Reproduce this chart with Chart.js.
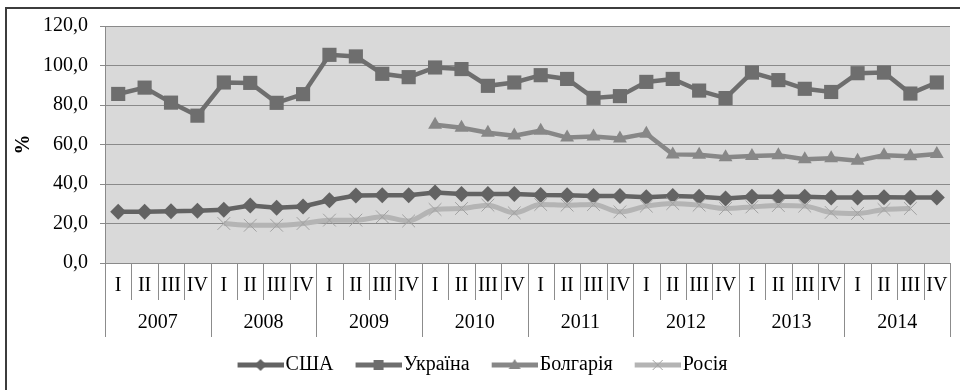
<!DOCTYPE html>
<html>
<head>
<meta charset="utf-8">
<script src="https://cdn.jsdelivr.net/npm/chart.js@4/dist/chart.umd.min.js"></script>
<style>
  html, body { margin: 0; padding: 0; background: #fff; }
  #wrap { position: relative; width: 960px; height: 390px; overflow: hidden; }
  #frame { position: absolute; left: 5px; top: 7px; width: 1000px; height: 500px;
           border-left: 2px solid #3c3c3c; border-top: 2px solid #3c3c3c; pointer-events: none; }
  canvas { position: absolute; left: 0; top: 0; }
  .pre { font-family: 'Liberation Serif'; position: absolute; left: -999px; top: -999px; }
</style>
</head>
<body>
<div id="wrap">
  <canvas id="c" width="960" height="390"></canvas>
  <div id="frame"></div>
</div>
<span class="pre">США Україна Болгарія Росія 120,0 <b>%</b></span>
<script>
// ---- data ----
const years = ['2007', '2008', '2009', '2010', '2011', '2012', '2013', '2014'];
const quarters = ['I', 'II', 'III', 'IV'];
const seriesNames = ['США', 'Україна', 'Болгарія', 'Росія'];
const yTicks = [0, 20, 40, 60, 80, 100, 120];

const usa = [25.9, 25.9, 26.2, 26.4, 27.0, 29.1, 28.0, 28.6,
             31.8, 34.2, 34.3, 34.3, 35.7, 35.0, 35.0, 34.9,
             34.4, 34.3, 33.9, 33.9, 33.3, 33.9, 33.6, 32.7,
             33.5, 33.5, 33.5, 33.2, 33.2, 33.3, 33.2, 33.2];
const ukraine = [85.6, 88.8, 81.2, 74.6, 91.4, 91.2, 81.1, 85.5,
                 105.4, 104.6, 95.8, 94.1, 99.0, 98.2, 89.7, 91.4,
                 95.1, 93.2, 83.6, 84.5, 91.7, 93.2, 87.3, 83.5,
                 96.4, 92.6, 88.2, 86.6, 96.1, 96.4, 85.8, 91.4];
const bulgaria = [null, null, null, null, null, null, null, null,
                  null, null, null, null, 70.0, 68.5, 66.0, 64.5,
                  67.0, 63.5, 64.0, 63.0, 65.5, 55.0, 54.8, 53.5,
                  54.2, 54.5, 52.5, 53.0, 51.8, 54.5, 54.0, 55.2];
const russia = [null, null, null, null, 20.0, 19.1, 19.1, 20.0,
                21.7, 21.7, 23.4, 21.3, 27.1, 27.6, 29.3, 25.4,
                29.6, 29.3, 29.6, 25.9, 28.8, 30.1, 29.3, 27.6,
                28.4, 29.1, 28.8, 25.6, 25.1, 27.1, 27.6, null];

const labels = [];
years.forEach(y => quarters.forEach(q => labels.push(q + ' ' + y)));

// ---- styles ----
const FONT = "'Liberation Serif', 'DejaVu Serif', serif";

const cUSA = '#636363', cUKR = '#6e6e6e', cBUL = '#878787', cRUS = '#b4b4b4', cRUSpt = '#a2a2a2';

function legendIcon(kind, lineColor, markColor) {
  const cv = document.createElement('canvas');
  cv.width = 66; cv.height = 20;
  const g = cv.getContext('2d');
  g.strokeStyle = lineColor; g.lineWidth = 5; g.lineCap = 'butt';
  g.beginPath(); g.moveTo(20, 10); g.lineTo(66, 10); g.stroke();
  const cx = 43, cy = 10;
  g.fillStyle = markColor; g.strokeStyle = markColor;
  g.beginPath();
  if (kind === 'diamond') {
    g.moveTo(cx - 6, cy); g.lineTo(cx, cy - 6); g.lineTo(cx + 6, cy); g.lineTo(cx, cy + 6); g.closePath(); g.fill();
  } else if (kind === 'square') {
    g.rect(cx - 5, cy - 5, 10, 10); g.fill();
  } else if (kind === 'triangle') {
    g.moveTo(cx, cy - 6); g.lineTo(cx + 6, cy + 4); g.lineTo(cx - 6, cy + 4); g.closePath(); g.fill();
  } else {
    g.lineWidth = 1;
    g.moveTo(cx - 5, cy - 5); g.lineTo(cx + 5, cy + 5); g.moveTo(cx + 5, cy - 5); g.lineTo(cx - 5, cy + 5); g.stroke();
  }
  return cv;
}

const decor = {
  id: 'decor',
  beforeDraw(chart) {
    const { ctx, chartArea: a } = chart;
    ctx.save();
    ctx.fillStyle = '#d9d9d9';
    ctx.fillRect(a.left, a.top, a.right - a.left, a.bottom - a.top);
    ctx.restore();
  },
  afterDraw(chart) {
    const { ctx, chartArea: a } = chart;
    const x = chart.scales.x;
    const n = labels.length;
    const step = x.getPixelForValue(1) - x.getPixelForValue(0);
    ctx.save();
    ctx.strokeStyle = '#8c8c8c';
    ctx.lineWidth = 1;
    for (let i = 0; i <= n; i++) {
      const px = Math.round(x.getPixelForValue(Math.min(i, n - 1)) + (i < n ? -step / 2 : step / 2)) + 0.5;
      const end = (i % 4 === 0) ? a.bottom + 74 : a.bottom + 37;
      ctx.beginPath(); ctx.moveTo(px, a.bottom); ctx.lineTo(px, end); ctx.stroke();
    }
    ctx.fillStyle = '#000';
    ctx.font = '20px ' + FONT;
    ctx.textAlign = 'center';
    ctx.textBaseline = 'middle';
    for (let i = 0; i < n; i++) {
      ctx.fillText(quarters[i % 4], x.getPixelForValue(i), a.bottom + 23);
    }
    years.forEach((y, k) => {
      const cx = (x.getPixelForValue(k * 4) + x.getPixelForValue(k * 4 + 3)) / 2;
      ctx.fillText(y, cx, a.bottom + 60);
    });
    ctx.restore();
  }
};

function build() {
  Chart.defaults.font.family = FONT;
  Chart.defaults.font.size = 20;
  Chart.defaults.color = '#000';
  const icons = [
    legendIcon('diamond', cUSA, cUSA),
    legendIcon('square', cUKR, cUKR),
    legendIcon('triangle', cBUL, cBUL),
    legendIcon('cross', cRUS, cRUSpt)
  ];
  new Chart(document.getElementById('c'), {
    type: 'line',
    data: {
      labels: labels,
      datasets: [
        { label: seriesNames[0], data: usa, borderColor: cUSA, backgroundColor: cUSA, borderWidth: 4.5,
          pointStyle: 'rectRot', pointRadius: 8, pointBorderWidth: 0, order: 4, tension: 0 },
        { label: seriesNames[1], data: ukraine, borderColor: cUKR, backgroundColor: cUKR, borderWidth: 4.5,
          pointStyle: 'rect', pointRadius: 10, pointBorderWidth: 0, order: 3, tension: 0 },
        { label: seriesNames[2], data: bulgaria, borderColor: cBUL, backgroundColor: cBUL, borderWidth: 4.5,
          pointStyle: 'triangle', pointRadius: 8, pointBorderWidth: 0, order: 2, tension: 0 },
        { label: seriesNames[3], data: russia, borderColor: cRUS, backgroundColor: cRUSpt, borderWidth: 5,
          pointStyle: 'crossRot', pointRadius: 9, pointBorderWidth: 1, pointBorderColor: cRUSpt,
          order: 1, tension: 0.35, cubicInterpolationMode: 'monotone' }
      ]
    },
    options: {
      responsive: false,
      animation: false,
      layout: { padding: { left: 0, right: 7, top: 26, bottom: 5 } },
      plugins: {
        tooltip: { enabled: false },
        legend: {
          position: 'bottom',
          labels: {
            usePointStyle: true,
            pointStyleWidth: 50,
            padding: 10,
            font: { size: 20, family: FONT },
            color: '#000',
            generateLabels: (chart) => chart.data.datasets.map((ds, i) => ({
              text: ds.label, pointStyle: icons[i], fillStyle: ds.borderColor,
              strokeStyle: ds.borderColor, lineWidth: 0, hidden: false, datasetIndex: i
            }))
          }
        }
      },
      scales: {
        x: {
          offset: true,
          grid: { display: false },
          border: { display: false },
          ticks: { display: false },
          afterFit: (s) => { s.height = 82; }
        },
        y: {
          min: 0, max: 120,
          afterBuildTicks: (s) => { s.ticks = yTicks.map(v => ({ value: v })); },
          grid: { color: '#8a8a8a', lineWidth: 1, tickLength: 5 },
          border: { color: '#8a8a8a' },
          ticks: { padding: 12, color: '#000', font: { size: 20, family: FONT },
                   callback: (v) => v.toFixed(1).replace('.', ',') },
          title: { display: true, text: '%', font: { size: 20, weight: 'bold', family: FONT },
                   color: '#000', padding: { top: 12, bottom: 0 } },
          afterFit: (s) => { s.width = 105; }
        }
      }
    },
    plugins: [decor]
  });
}

const loads = [
  document.fonts.load("20px 'Liberation Serif'", 'США Україна 120,0'),
  document.fonts.load("bold 20px 'Liberation Serif'", '%')
];
Promise.all(loads).then(build, build);
</script>
</body>
</html>
